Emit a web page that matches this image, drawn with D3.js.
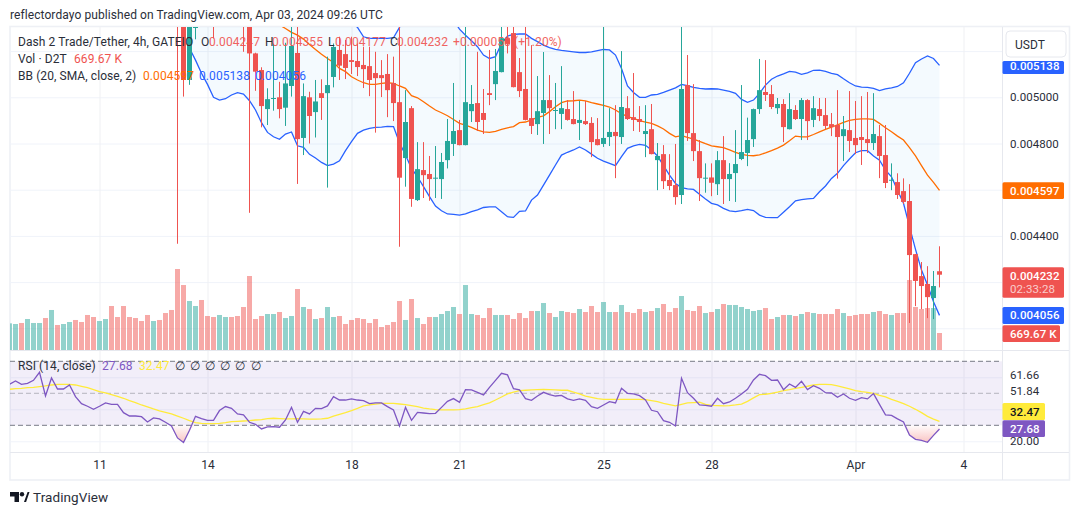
<!DOCTYPE html>
<html>
<head>
<meta charset="utf-8">
<script src="https://cdn.jsdelivr.net/npm/d3@7"></script>
<style>
  body { margin: 0; background: #fff; }
  text { font-family: Roboto, "Open Sans", sans-serif; font-size: 12px; letter-spacing: 0.08px; fill: #2a2e39; }
  .axis path.domain { display: none; }
</style>
</head>
<body>
<div id="chart"></div>
<script>
// all prices are in millionths of USDT, volumes in thousands of D2T
const barCount = 156;
const candleStart = 28; // earlier candles sit above the visible price range
const upperStart = 30;
const lowerStart = 30;
const basisStart = 45;

const dayTicks = [15, 33, 57, 75, 99, 117, 141, 159];
const dayLabels = ["11", "14", "18", "21", "25", "28", "Apr", "4"];
const priceTicks = [5200, 5000, 4800, 4600, 4400, 4200, 4000];
const priceLabels = [5000, 4800, 4400];
const rsiGrid = [60, 40, 20];
const rsiLabels = [61.66, 51.84, 20];

const earlyVolumeUp = [1,1,0,1,1,1,0,1,0,1,1,0,0,0,0,1,1,0,0,0,0,0,0,0,1,0,0,0];

const opens = [5440,5420,5075,5300,5400,5390,5380,5340,5350,5390,5380,5360,5330,
  5190,5118,4949,4995,5000,4955,5049,5192,4824,5000,
  4936,5018,5018,5088,5205,5187,5161,5157,5140,5135,
  5105,5096,5101,5062,4979,4737,4953,4555,4685,4668,
  4649,4646,4728,4798,4858,4793,4940,4975,4932,5018,
  5057,5109,5256,5278,5109,5036,4910,4884,4932,4988,
  4942,4928,4949,4906,4889,4897,4889,4819,4798,4828,
  4850,4828,4953,4914,4906,4841,4862,4728,4754,4642,
  4620,4577,5053,4845,4767,4649,4653,4624,4728,4646,
  4672,4733,4759,4819,4949,5023,5014,4953,4971,4862,
  4945,4906,4988,4902,4949,4923,4884,4880,4832,4858,
  4824,4828,4819,4802,4832,4750,4640,4633,4594,4551,
  4321,4226,4192,4131,4247];
const highs = [5620,5500,5450,5400,5420,5420,5400,5400,5420,5410,5400,5380,5400,
  5193,5130,5039,5233,5067,5236,5330,5340,5060,5024,
  5075,5078,5176,5233,5262,5248,5262,5233,5219,5219,
  5197,5161,5187,5176,5320,5031,4962,4806,4806,4746,
  4789,4759,4906,5062,4902,5320,5053,5197,5036,5205,
  5209,5320,5320,5320,5170,5320,5226,5092,5196,5096,
  5062,5135,4988,5027,4984,4984,4914,4910,5320,4953,
  4966,5200,5005,5105,4962,4966,4971,4802,4793,4754,
  4798,5320,5183,5057,4815,4714,4714,4767,4832,4715,
  4858,5053,4912,4951,5166,5161,5053,4997,4992,5018,
  4966,4997,4992,5005,4997,4997,4932,5031,4919,5027,
  4984,5005,5023,5018,4880,4880,4714,4671,4649,4624,
  4322,4287,4269,4248,4355];
const lows = [4366,5003,5054,5251,5340,5320,5255,5320,5320,5320,5320,5197,4500,
  5028,4870,4880,4942,4909,4876,5003,4625,4750,4800,
  4826,4902,4609,5043,5075,5079,5101,5092,5040,5005,
  4847,5001,4914,4897,4353,4613,4526,4551,4564,4552,
  4564,4560,4692,4746,4792,4792,4893,4854,4841,4966,
  4988,5108,5190,5043,5001,4900,4841,4837,4798,4841,
  4862,4862,4899,4883,4815,4880,4741,4792,4785,4789,
  4650,4798,4902,4854,4850,4741,4753,4598,4603,4598,
  4535,4538,4811,4724,4551,4587,4572,4577,4538,4551,
  4547,4728,4702,4785,4928,4984,4949,4928,4806,4861,
  4902,4815,4815,4871,4897,4862,4832,4648,4724,4763,
  4754,4707,4759,4772,4650,4607,4598,4560,4538,4023,
  4096,4083,4044,4040,4177];
const closes = [5380,5075,5380,5340,5360,5355,5345,5380,5390,5350,5340,5320,5190,
  5111,4962,4992,4997,4949,5060,5222,4819,5005,4919,
  4982,4997,5053,5218,5137,5127,5153,5131,5122,5075,
  5083,5083,5031,4975,4652,4893,4560,4689,4663,4646,
  4652,4720,4811,4854,4793,4979,4971,4893,4902,5010,
  5114,5256,5231,5044,5027,4902,4876,4940,4988,4953,
  4945,4953,4902,4884,4902,4884,4806,4793,4824,4850,
  4832,4958,4906,4902,4893,4854,4754,4746,4637,4616,
  4568,5036,4845,4767,4650,4652,4630,4728,4646,4668,
  4711,4763,4815,4949,5031,5010,4958,4971,4871,4949,
  4906,4988,4897,4953,4919,4876,4871,4828,4862,4811,
  4793,4815,4802,4841,4746,4629,4643,4577,4547,4317,
  4205,4183,4135,4183,4232];

const volumes = [1050,1024,1064,1221,1064,1064,1260,1576,985,1024,1103,1182,1103,1379,1300,1142,1221,1733,1300,1733,
  1300,1260,1142,1379,1142,1182,1457,1576,3191,2560,1930,1733,1970,1339,1300,1379,1300,1300,1339,1694,
  2915,1221,1339,1418,1418,1497,1260,1339,2403,1694,1615,1221,1260,1694,1300,1339,1024,1182,1260,1221,
  1064,1221,906,985,1103,1930,1182,2009,1260,1024,1300,1300,1418,1536,1694,1418,2560,1418,1379,1260,
  1654,1379,1379,1379,1221,1457,1260,1536,1536,1851,1457,1300,1536,1497,1457,1615,1497,1733,1497,1891,
  1497,1497,1773,1497,1457,1615,1497,1536,1654,1812,1497,1654,2127,1576,1536,1733,1457,1497,1615,1812,
  1773,1773,1694,1615,1536,1576,1654,1221,1300,1379,1379,1339,1418,1497,1457,1418,1418,1418,1615,1457,
  1339,1379,1418,1418,1497,1536,1418,1379,1457,1457,2757,1694,1615,1654,1654,669.67];

const bbUpper = [5640,5650,5660,5670,5660,5650,5640,5630,5620,5600,5590,5570,5560,5540,5520,5500,5490,5470,5460,5440,
  5420,5410,5390,5380,5360,5350,5340,5320,5303,5262,5255,5255,5255,5255,5258,5303,5345,5385,5410,5430,
  5440,5440,5420,5385,5335,5295,5269,5245,5219,5183,5168,5176,5233,5265,5272,5274,5274,5255,5241,5226,
  5215,5207,5203,5200,5197,5194,5194,5197,5202,5207,5205,5183,5125,5049,5021,5000,5000,5010,5013,5021,
  5031,5041,5056,5050,5043,5039,5036,5037,5036,5031,5026,5017,4991,4978,4988,5017,5053,5078,5092,5101,
  5112,5109,5099,5106,5117,5118,5112,5104,5098,5080,5063,5049,5044,5043,5039,5029,5036,5041,5047,5063,
  5104,5150,5166,5179,5168,5138];
const bbBasis = [5313,5298,5281,5269,5252,5229,5207,5186,5168,5151,5125,5111,5089,5075,5063,5056,5056,5060,5063,5060,
  5049,5039,5007,4998,4981,4962,4945,4933,4920,4904,4887,4880,4870,4858,4850,4848,4852,4861,4868,4873,
  4890,4893,4902,4913,4920,4938,4959,4977,4984,4985,4988,4985,4977,4971,4965,4958,4945,4929,4916,4909,
  4899,4893,4887,4876,4863,4844,4829,4834,4826,4819,4809,4799,4790,4786,4782,4772,4762,4753,4749,4747,
  4751,4759,4769,4780,4793,4812,4832,4829,4829,4839,4850,4861,4871,4881,4891,4900,4904,4907,4907,4904,
  4887,4868,4851,4832,4815,4782,4746,4704,4663,4632,4597];
const bbLower = [5212,5161,5104,5056,5000,4988,4994,5010,5020,5014,4985,4945,4890,4848,4829,4818,4841,4850,4790,4783,
  4753,4737,4718,4704,4711,4725,4769,4808,4844,4858,4865,4870,4871,4874,4873,4803,4750,4692,4656,4613,
  4570,4529,4509,4495,4493,4490,4495,4505,4513,4523,4526,4526,4505,4483,4480,4506,4508,4555,4577,4620,
  4663,4707,4750,4762,4772,4785,4772,4754,4736,4724,4714,4704,4743,4779,4790,4796,4792,4772,4746,4704,
  4663,4627,4609,4604,4601,4580,4560,4541,4534,4519,4508,4505,4509,4515,4510,4490,4480,4479,4479,4502,
  4526,4552,4557,4560,4562,4591,4616,4649,4671,4704,4733,4760,4769,4769,4746,4728,4685,4656,4598,4541,
  4440,4342,4252,4187,4115,4056];

const rsi = [55.6,57.7,55.6,56.2,58.1,63.1,48.3,59.6,52.7,52.7,55.2,47.9,43.5,41.9,40.0,41.9,44.0,43.1,43.1,37.9,
  35.8,35.8,35.4,32.1,34.6,34.0,31.9,29.6,22.1,19.2,26.9,35.6,34.2,33.1,33.1,39.2,41.7,40.6,37.1,36.5,
  31.9,30.6,27.7,29.0,29.2,28.8,33.3,41.2,31.9,38.7,37.1,40.6,40.4,42.1,47.9,45.8,45.8,46.5,45.8,45.4,
  43.5,44.0,44.0,41.7,39.6,29.6,41.2,33.1,38.1,37.7,37.3,37.5,41.2,45.0,46.7,44.4,52.3,52.1,50.6,49.0,
  53.7,58.1,62.5,61.5,52.9,52.1,46.7,45.6,48.3,50.6,49.2,48.3,48.7,46.5,45.6,46.5,45.6,41.7,40.6,42.7,
  44.8,44.0,53.1,50.0,49.6,48.5,45.8,39.4,38.5,32.9,31.9,29.6,59.4,50.4,46.9,42.7,42.5,41.9,46.9,43.5,
  44.6,46.9,49.6,52.5,58.3,61.9,61.0,58.1,58.3,52.3,55.8,53.7,57.5,52.3,54.8,53.1,50.4,50.2,47.5,49.6,
  46.9,45.6,47.3,46.5,49.8,43.1,36.5,36.2,34.0,32.1,23.9,21.2,20.6,19.4,23.7,27.68];
const rsiMa = [52.5,52.9,53.1,53.5,53.7,54.2,54.6,55.2,55.6,55.6,55.6,55.2,54.4,53.5,52.3,51.0,50.2,49.2,48.1,46.9,
  45.4,44.2,42.7,41.5,40.2,39.0,38.1,37.1,35.8,34.4,32.9,31.7,31.2,31.0,31.0,31.2,31.7,32.3,32.5,32.7,
  32.9,33.3,33.5,34.2,34.4,34.2,34.0,34.0,34.2,34.0,33.8,33.8,34.0,34.4,35.8,36.9,37.9,39.2,40.6,42.1,
  42.7,43.3,43.7,43.7,43.7,43.3,42.9,42.3,41.7,40.8,40.2,39.8,39.6,39.6,39.6,39.8,40.2,41.0,41.7,42.9,
  44.0,45.8,47.7,49.6,50.8,51.7,51.9,52.1,52.3,52.5,52.3,52.1,51.9,51.9,50.8,49.6,48.3,47.5,46.7,46.2,
  46.2,46.2,46.2,46.2,46.2,46.2,46.0,45.4,44.8,43.7,42.9,42.1,43.1,44.0,44.2,44.4,43.1,42.5,42.3,42.1,
  42.3,42.7,43.3,45.0,47.1,49.2,49.4,50.0,50.8,51.7,52.3,53.1,53.7,54.4,55.2,55.6,55.6,55.4,54.6,53.7,
  52.7,51.7,51.0,50.6,50.0,48.7,47.7,46.2,45.0,43.5,41.9,40.0,37.9,35.6,33.9,32.47];

const teal = "#26a69a";
const red = "#ef5350";
const blue = "#2962ff";
const orange = "#ff6d00";
const purple = "#7e57c2";
const yellow = "#ffeb3b";

const svg = d3.select("#chart").append("svg").attr("width", 1080).attr("height", 515);
const defs = svg.append("defs");

const paneLeft = 10, paneRight = 1002.5;
const mainTop = 27, mainBottom = 350, rsiBottom = 452;

const x = d3.scaleLinear().domain([0, barCount - 1]).range([9.5, 939.5]);
const priceY = d3.scaleLinear().domain([4000, 5200]).range([328.3, 51.1]);
const volY = d3.scaleLinear().domain([0, 3191]).range([mainBottom, 269]);
const rsiY = d3.scaleLinear().domain([20, 70]).range([441.3, 361.3]);

defs.append("clipPath").attr("id", "main-clip").append("rect")
  .attr("x", paneLeft).attr("y", mainTop).attr("width", paneRight - paneLeft).attr("height", mainBottom - mainTop);
defs.append("clipPath").attr("id", "rsi-clip").append("rect")
  .attr("x", paneLeft).attr("y", mainBottom).attr("width", paneRight - paneLeft).attr("height", rsiBottom - mainBottom);

const grad = defs.append("linearGradient").attr("id", "oversold").attr("gradientUnits", "userSpaceOnUse")
  .attr("x1", 0).attr("x2", 0).attr("y1", rsiY(30)).attr("y2", rsiY(20));
grad.append("stop").attr("offset", 0).attr("stop-color", red).attr("stop-opacity", 0.02);
grad.append("stop").attr("offset", 1).attr("stop-color", red).attr("stop-opacity", 0.32);

// frame
svg.append("rect").attr("x", 10).attr("y", 26.5).attr("width", 1059.5).attr("height", 453.5)
  .attr("fill", "#fff").attr("stroke", "#eef0f5").attr("stroke-width", 1.6);

// grids
const gridColor = "#f0f3fa";
function styleGrid(g, color) {
  g.select(".domain").remove();
  g.selectAll("text").remove();
  g.selectAll("line").attr("stroke", color);
}
svg.append("g").attr("transform", `translate(${paneRight},0)`)
  .call(d3.axisLeft(priceY).tickValues(priceTicks).tickSize(paneRight - paneLeft))
  .call(styleGrid, gridColor);
svg.append("g").attr("transform", `translate(0,${mainBottom})`)
  .call(d3.axisBottom(x).tickValues(dayTicks).tickSize(-(mainBottom - mainTop)))
  .call(styleGrid, "#eff0f3");
svg.append("g").attr("transform", `translate(0,${rsiBottom})`)
  .call(d3.axisBottom(x).tickValues(dayTicks).tickSize(-(rsiBottom - mainBottom)))
  .call(styleGrid, "#eff0f3");

// volume
const mainPane = svg.append("g").attr("clip-path", "url(#main-clip)");
function isUp(i) {
  return i < candleStart ? earlyVolumeUp[i] === 1 : closes[i - candleStart] >= opens[i - candleStart];
}
mainPane.append("g").selectAll("rect").data(volumes).join("rect")
  .attr("x", (d, i) => x(i) - 2.5)
  .attr("width", 5)
  .attr("y", (d) => volY(d))
  .attr("height", (d) => mainBottom - volY(d))
  .attr("fill", (d, i) => (isUp(i) ? teal : red))
  .attr("opacity", 0.5);

// bollinger bands
const bandArea = d3.area()
  .x((d, i) => x(i + upperStart))
  .y0((d, i) => priceY(bbLower[i]))
  .y1((d) => priceY(d));
mainPane.append("path").attr("d", bandArea(bbUpper)).attr("fill", "#2196f3").attr("opacity", 0.05);

function bandLine(values, start, color) {
  const line = d3.line().x((d, i) => x(i + start)).y((d) => priceY(d));
  mainPane.append("path").attr("d", line(values)).attr("fill", "none").attr("stroke", color).attr("stroke-width", 1.3);
}
bandLine(bbBasis, basisStart, orange);
bandLine(bbUpper, upperStart, blue);
bandLine(bbLower, lowerStart, blue);

// candles
const candles = mainPane.append("g").selectAll("g").data(opens).join("g")
  .attr("fill", (d, i) => (closes[i] >= d ? teal : red))
  .attr("stroke", (d, i) => (closes[i] >= d ? teal : red));
candles.append("line")
  .attr("x1", (d, i) => x(i + candleStart))
  .attr("x2", (d, i) => x(i + candleStart))
  .attr("y1", (d, i) => priceY(highs[i]))
  .attr("y2", (d, i) => priceY(lows[i]));
candles.append("rect")
  .attr("stroke", "none")
  .attr("x", (d, i) => x(i + candleStart) - 2.5)
  .attr("width", 5)
  .attr("y", (d, i) => priceY(Math.max(d, closes[i])))
  .attr("height", (d, i) => Math.max(1, Math.abs(priceY(d) - priceY(closes[i]))));

// rsi pane
svg.append("g").attr("transform", `translate(${paneRight},0)`)
  .call(d3.axisLeft(rsiY).tickValues(rsiGrid).tickSize(paneRight - paneLeft))
  .call(styleGrid, gridColor);
const rsiPane = svg.append("g").attr("clip-path", "url(#rsi-clip)");
rsiPane.append("rect").attr("x", paneLeft).attr("width", paneRight - paneLeft)
  .attr("y", rsiY(70)).attr("height", rsiY(30) - rsiY(70))
  .attr("fill", purple).attr("opacity", 0.1);
rsiPane.selectAll("line.level").data([70, 50, 30]).join("line").attr("class", "level")
  .attr("x1", paneLeft).attr("x2", paneRight)
  .attr("y1", (d) => rsiY(d)).attr("y2", (d) => rsiY(d))
  .attr("stroke", "#787b86")
  .attr("stroke-opacity", (d) => (d === 50 ? 0.5 : 1))
  .attr("stroke-dasharray", "5,3");
const oversold = d3.area()
  .x((d, i) => x(i))
  .y0(rsiY(30))
  .y1((d) => rsiY(Math.min(d, 30)));
rsiPane.append("path").attr("d", oversold(rsi)).attr("fill", "url(#oversold)");
const rsiLine = d3.line().x((d, i) => x(i)).y((d) => rsiY(d));
rsiPane.append("path").attr("d", rsiLine(rsiMa)).attr("fill", "none").attr("stroke", yellow).attr("stroke-width", 1.3);
rsiPane.append("path").attr("d", rsiLine(rsi)).attr("fill", "none").attr("stroke", purple).attr("stroke-width", 1.3);

// pane separators
[[paneLeft, mainBottom + 0.5, 1069, mainBottom + 0.5],
 [paneLeft, rsiBottom + 0.5, 1069, rsiBottom + 0.5],
 [paneRight, 27, paneRight, 480]].forEach(([x1, y1, x2, y2]) => {
  svg.append("line").attr("x1", x1).attr("x2", x2).attr("y1", y1).attr("y2", y2)
    .attr("stroke", "#e6e8ee").attr("stroke-width", 1);
});

// axes
svg.append("g").attr("class", "axis").attr("transform", `translate(0,${rsiBottom})`)
  .call(d3.axisBottom(x).tickValues(dayTicks).tickSize(0).tickPadding(8)
    .tickFormat((d, i) => dayLabels[i]))
  .selectAll("text").style("font-size", "12px").style("font-family", "Roboto").attr("fill", "#2a2e39");
const priceAxis = svg.append("g").attr("class", "axis").attr("transform", `translate(${paneRight},0)`)
  .call(d3.axisRight(priceY).tickValues(priceLabels).tickSize(0).tickPadding(7.5)
    .tickFormat((d) => (d / 1e6).toFixed(6)));
priceAxis.selectAll("text").style("font-size", "11.5px").style("font-family", "Roboto").attr("fill", "#2a2e39");
const rsiAxis = svg.append("g").attr("class", "axis").attr("transform", `translate(${paneRight},0)`)
  .call(d3.axisRight(rsiY).tickValues(rsiLabels).tickSize(0).tickPadding(7.5)
    .tickFormat((d) => d.toFixed(2)));
rsiAxis.selectAll("text").style("font-size", "11.5px").style("font-family", "Roboto").attr("fill", "#2a2e39");

// value tags on the right axis
function tag(y0, y1, w, color, label, textColor, textY) {
  svg.append("rect").attr("x", paneRight).attr("y", y0).attr("width", w).attr("height", y1 - y0)
    .attr("fill", color).attr("rx", 1.5);
  svg.append("text").attr("x", 1010).attr("y", textY).attr("dy", "0.36em")
    .style("fill", textColor).style("font-size", "11.5px").style("font-weight", 500).text(label);
}
tag(61, 74, 61.5, blue, "0.005138", "#fff", 65.7);
tag(182.3, 199, 61.5, orange, "0.004597", "#fff", 190.7);
tag(267.3, 297.7, 61.5, red, "0.004232", "#fff", 275.7);
svg.append("text").attr("x", 1010).attr("y", 289.2).attr("dy", "0.36em").style("fill", "#fff").style("font-size", "11.5px").attr("opacity", 0.7).text("02:33:28");
tag(307, 324, 61.5, blue, "0.004056", "#fff", 315.3);
tag(325.3, 342, 57.5, red, "669.67 K", "#fff", 333.7);
tag(403, 420, 42.5, yellow, "32.47", "#131722", 411.7);
tag(420.3, 437, 42.5, purple, "27.68", "#fff", 428.9);

// currency button
svg.append("rect").attr("x", 1006).attr("y", 31).attr("width", 60).attr("height", 26).attr("rx", 4)
  .attr("fill", "#fff").attr("stroke", "#e6e8ee");
svg.append("text").attr("x", 1015).attr("y", 44.5).attr("dy", "0.36em").text("USDT");

// legends
function legendText(px, py, label, color, opacity) {
  svg.append("text").attr("x", px).attr("y", py).attr("dy", "0.36em")
    .style("fill", color).attr("opacity", opacity || 1).text(label);
}
const dark = "#2a2e39";
legendText(18, 41.5, "Dash 2 Trade/Tether, 4h, GATEIO", dark);
legendText(201, 41.5, "O", dark);
legendText(209, 41.5, "0.004247", red, 0.9);
legendText(265, 41.5, "H", dark);
legendText(272, 41.5, "0.004355", red, 0.9);
legendText(328, 41.5, "L", dark);
legendText(335, 41.5, "0.004177", red, 0.9);
legendText(390, 41.5, "C", dark);
legendText(397, 41.5, "0.004232", red, 0.9);
legendText(453, 41.5, "+0.000050 (+1.20%)", red, 0.9);
legendText(18, 59, "Vol · D2T", dark);
legendText(74, 59, "669.67 K", red);
legendText(18, 76, "BB (20, SMA, close, 2)", dark);
legendText(143, 76, "0.004597", orange);
legendText(199, 76, "0.005138", blue);
legendText(255, 76, "0.004056", blue);
legendText(18, 366, "RSI (14, close)", dark);
legendText(102, 366, "27.68", purple);
legendText(139, 366, "32.47", yellow);
[175, 190, 205, 220, 235, 251].forEach((px) => legendText(px, 366, "∅", dark));

// header and footer
svg.append("text").attr("x", 10).attr("y", 15).attr("dy", "0.36em").text("reflectordayo published on TradingView.com, Apr 03, 2024 09:26 UTC");
svg.append("path").attr("fill", "#131722")
  .attr("d", "M10 492h9v10h-4.5v-5.5H10z M24 502l3.6-10H29.5l-3.4 10z");
svg.append("circle").attr("cx", 22).attr("cy", 494.2).attr("r", 2.2).attr("fill", "#131722");
svg.append("text").attr("x", 33).attr("y", 497.5).attr("dy", "0.36em").style("font-size", "13.5px").style("fill", "#2a2e39").text("TradingView");
</script>
</body>
</html>
